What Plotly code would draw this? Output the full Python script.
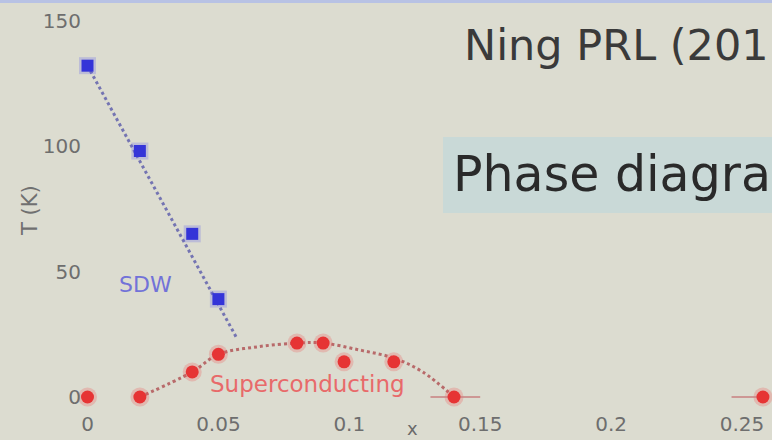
import plotly.graph_objects as go

# ---- data ----
sdw_x = [0.0, 0.02, 0.04, 0.05]
sdw_T = [132, 98, 65, 39]
sdw_line_x = [0.0, 0.057]
sdw_line_T = [132, 23.5]

sc_x = [0.0, 0.02, 0.04, 0.05, 0.08, 0.09, 0.098, 0.117, 0.14, 0.258]
sc_T = [0, 0, 10, 17, 21.5, 21.5, 14, 14, 0, 0]
sc_err_plus = [0, 0, 0, 0, 0, 0, 0, 0, 0.01, 0]
sc_err_minus = [0, 0, 0, 0, 0, 0, 0, 0, 0.009, 0.012]

dome_x = [0.02, 0.04, 0.05, 0.065, 0.08, 0.09, 0.104, 0.117, 0.128, 0.14]
dome_T = [0, 10, 17, 20, 21.5, 21.5, 18.7, 15.5, 10, 0]

x_ticks = [0, 0.05, 0.1, 0.15, 0.2, 0.25]
x_ticklabels = ["0", "0.05", "0.1", "0.15", "0.2", "0.25"]
y_ticks = [0, 50, 100, 150]
y_ticklabels = ["0", "50", "100", "150"]

FONT = "DejaVu Sans"
BG = "#dcdcd0"

fig = go.Figure()

# dashed guide lines
fig.add_trace(go.Scatter(x=sdw_line_x, y=sdw_line_T, mode="lines",
                         line=dict(color="#7474b2", width=3, dash="dot"),
                         hoverinfo="skip", showlegend=False, cliponaxis=False))
fig.add_trace(go.Scatter(x=dome_x, y=dome_T, mode="lines",
                         line=dict(color="#b86a6a", width=3, dash="dot", shape="spline"),
                         hoverinfo="skip", showlegend=False, cliponaxis=False))

# halos
fig.add_trace(go.Scatter(x=sdw_x, y=sdw_T, mode="markers",
                         marker=dict(symbol="square", size=17, color="rgba(90,90,235,0.25)"),
                         hoverinfo="skip", showlegend=False, cliponaxis=False))
fig.add_trace(go.Scatter(x=sc_x, y=sc_T, mode="markers",
                         marker=dict(symbol="circle", size=19, color="rgba(240,80,80,0.25)"),
                         hoverinfo="skip", showlegend=False, cliponaxis=False))

# data points
fig.add_trace(go.Scatter(x=sdw_x, y=sdw_T, mode="markers", name="SDW",
                         marker=dict(symbol="square", size=12, color="#3434d8"),
                         showlegend=False, cliponaxis=False))
fig.add_trace(go.Scatter(x=sc_x, y=sc_T, mode="markers", name="SC",
                         marker=dict(symbol="circle", size=13, color="#e63434"),
                         error_x=dict(type="data", symmetric=False, array=sc_err_plus,
                                      arrayminus=sc_err_minus, color="#c88080",
                                      thickness=1.5, width=0),
                         showlegend=False, cliponaxis=False))

L, R, T_, B = 82, 0, 0, 30
W, H = 772, 440
pw = W - L - R
ph = H - T_ - B


def px_x(px):
    return (px - L) / pw


def px_y(py):
    return (H - B - py) / ph


annotations = [
    dict(x=0.0223, y=45, xref="x", yref="y", text="SDW", showarrow=False,
         xanchor="center", yanchor="middle",
         font=dict(family=FONT, size=22, color="#7272d8")),
    dict(x=0.0842, y=5.2, xref="x", yref="y", text="Superconducting", showarrow=False,
         xanchor="center", yanchor="middle",
         font=dict(family=FONT, size=23, color="#e86a6a")),
    dict(x=px_x(412), y=px_y(428), xref="paper", yref="paper", text="x", showarrow=False,
         xanchor="center", yanchor="middle",
         font=dict(family=FONT, size=18, color="#6a6a6a")),
    dict(x=px_x(30), y=px_y(211), xref="paper", yref="paper", text="T (K)", showarrow=False,
         xanchor="center", yanchor="middle",
         textangle=-90, font=dict(family=FONT, size=21, color="#707070")),
    dict(x=px_x(462), y=px_y(45), xref="paper", yref="paper", text="Ning PRL (201",
         showarrow=False, xanchor="left", yanchor="middle",
         font=dict(family=FONT, size=43, color="#3a3a3a")),
    dict(x=px_x(451), y=px_y(174), xref="paper", yref="paper", text="Phase diagra",
         showarrow=False, xanchor="left", yanchor="middle",
         font=dict(family=FONT, size=49, color="#2a2a2a")),
]

shapes = [
    dict(type="rect", xref="paper", yref="paper", x0=px_x(443), x1=px_x(772),
         y0=px_y(213), y1=px_y(137), fillcolor="#c9d9d7", line=dict(width=0), layer="below"),
    dict(type="rect", xref="paper", yref="paper", x0=px_x(0), x1=px_x(772),
         y0=px_y(3), y1=px_y(0), fillcolor="#b8c2e4", line=dict(width=0), layer="above"),
]

x0_px = 87.5
scale = 2618.0
fig.update_layout(
    width=W, height=H,
    margin=dict(l=L, r=R, t=T_, b=B, pad=0),
    paper_bgcolor=BG, plot_bgcolor=BG,
    font=dict(family=FONT, color="#707070"),
    annotations=annotations, shapes=shapes,
    xaxis=dict(range=[(L - x0_px) / scale, (W - R - x0_px) / scale],
               tickvals=x_ticks, ticktext=x_ticklabels, showgrid=False, zeroline=False,
               showline=False, ticks="", tickfont=dict(family=FONT, size=20, color="#6e6e6e")),
    yaxis=dict(range=[-(H - B - 397) / 2.51, 397 / 2.51],
               tickvals=y_ticks, ticktext=y_ticklabels, showgrid=False, zeroline=False,
               showline=False, ticks="", tickfont=dict(family=FONT, size=20, color="#6e6e6e")),
)

fig.write_html("out.html")
